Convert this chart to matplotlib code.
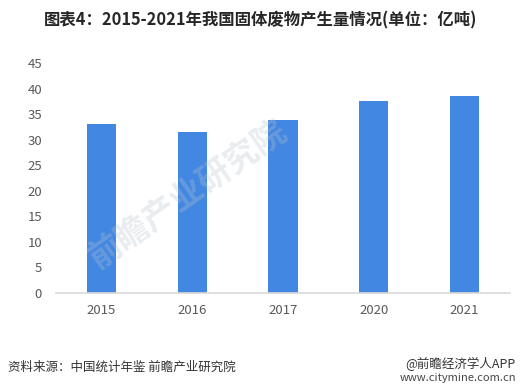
import matplotlib
matplotlib.use("Agg")
import matplotlib.pyplot as plt

plt.rcParams['font.family'] = ['Noto Sans CJK SC', 'DejaVu Sans']

# 数据（单位：亿吨）
years = ["2015", "2016", "2017", "2020", "2021"]
values = [33.0, 31.45, 33.8, 37.5, 38.5]
y_ticks = [0, 5, 10, 15, 20, 25, 30, 35, 40, 45]

title = "图表4：2015-2021年我国固体废物产生量情况(单位：亿吨)"
source = "资料来源：中国统计年鉴 前瞻产业研究院"

fig = plt.figure(figsize=(5.21, 3.9), dpi=100)
ax = fig.add_axes([56 / 521, 1 - 293 / 390, 454 / 521, 230 / 390])

ax.bar(range(len(years)), values, width=0.32, color="#4287E2", zorder=2)

ax.set_xlim(-0.5, len(years) - 0.5)
ax.set_ylim(0, 45)
ax.set_yticks(y_ticks)
ax.set_xticks(range(len(years)))
ax.set_xticklabels(years)
ax.tick_params(axis="both", length=0, labelsize=9.5, colors="#595959")
ax.tick_params(axis="y", pad=10)
ax.tick_params(axis="x", pad=8)

for s in ["top", "right", "left"]:
    ax.spines[s].set_visible(False)
ax.spines["bottom"].set_color("#D9D9D9")
ax.spines["bottom"].set_linewidth(1.2)

# 水印（淡）
fig.text(0.36, 0.5, "前瞻产业研究院", fontsize=24, color="#B8C4CE", alpha=0.3,
         rotation=35, ha="center", va="center", fontweight="bold")

fig.text(0.5, 1 - 20 / 390, title, ha="center", va="center",
         fontsize=11.8, fontweight="bold", color="#262626")
fig.text(8 / 521, 1 - 367 / 390, source, ha="left", va="center",
         fontsize=9, color="#333333")
fig.text(516 / 521, 1 - 364 / 390, "@前瞻经济学人APP", ha="right", va="center",
         fontsize=9, color="#333333")
fig.text(516 / 521, 1 - 378 / 390, "www.citymine.com.cn", ha="right", va="center",
         fontsize=8, color="#444444")

fig.savefig("out.png", dpi=100)
